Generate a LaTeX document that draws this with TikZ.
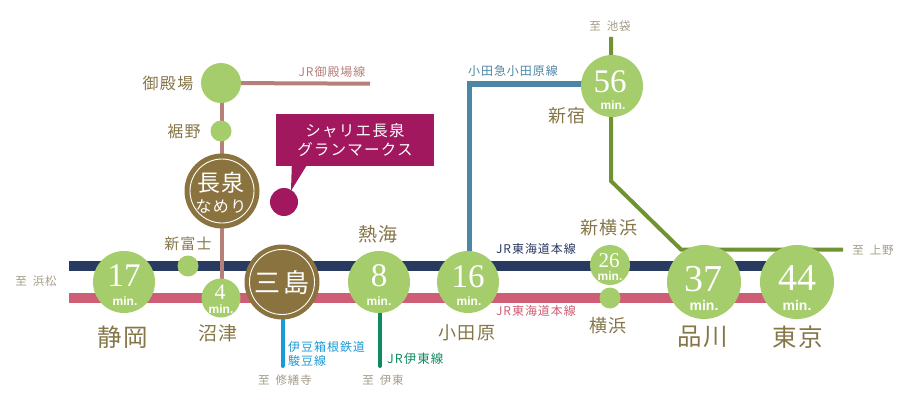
\documentclass[tikz,border=0pt]{standalone}
\usepackage{fontspec}
\usetikzlibrary{backgrounds,calc}
\setmainfont{Liberation Serif}
\newfontfamily\cjk[LetterSpace=8]{Noto Sans CJK JP}
\newfontfamily\numf{Liberation Serif}
\newfontfamily\minf{Liberation Sans}
\definecolor{stgreen}{HTML}{A5CD6B}
\definecolor{stbrown}{HTML}{8A733F}
\definecolor{labbrown}{HTML}{857648}
\definecolor{dirgrey}{HTML}{A39C86}
\definecolor{magen}{HTML}{A2185F}
\definecolor{navyl}{HTML}{283A60}
\definecolor{pinkl}{HTML}{CE5E76}
\definecolor{gotl}{HTML}{B67F79}
\definecolor{odal}{HTML}{4C86A4}
\definecolor{jrgreen}{HTML}{6E9330}
\definecolor{izul}{HTML}{1C9AD6}
\definecolor{itol}{HTML}{0F8A5F}
\tikzset{
  lab/.style={inner sep=0pt,text=labbrown,font=\cjk\fontsize{#1}{#1}\selectfont},
  dirlab/.style={inner sep=0pt,text=dirgrey,font=\cjk\fontsize{11.5}{11.5}\selectfont},
  linelab/.style 2 args={inner sep=0pt,text=#2,font=\cjk\fontsize{#1}{#1}\selectfont},
  st/.style={circle,fill=stgreen,inner sep=0pt,minimum size=#1},
  hub/.style={circle,fill=stbrown,inner sep=0pt,minimum size=#1},
  ring/.style={circle,draw=white,line width=0.9pt,inner sep=0pt,minimum size=#1},
  num/.style={inner sep=0pt,text=white,font=\numf\fontsize{#1}{#1}\selectfont},
  minlab/.style={inner sep=0pt,text=white,font=\minf\bfseries\fontsize{#1}{#1}\selectfont},
  wlab/.style={inner sep=0pt,text=white,font=\cjk\fontsize{#1}{#1}\selectfont},
  trunk/.style={line width=10pt},
  branch/.style={line width=4pt},
}
\begin{document}
\begin{tikzpicture}[x=1pt,y=-1pt]
\useasboundingbox (0,0) rectangle (905,420);
% stations
\node[st=40pt] (gotemba) at (221,83) {};
\node[st=21pt] (susono) at (221,131) {};
\node[hub=75pt] (nagaizumi) at (222,191) {};
\node[ring=64pt] (nagaring) at (222,191) {};
\node[st=62pt] (shizuoka) at (124,282) {};
\node[st=21pt] (shinfuji) at (188,266) {};
\node[st=39pt] (numazu) at (221,298) {};
\node[hub=75pt] (mishima) at (282,282) {};
\node[ring=65pt] (mishring) at (282,282) {};
\node[st=62pt] (atami) at (379,282) {};
\node[st=62pt] (odawara) at (468,282) {};
\node[st=40pt] (shinyoko) at (610,265) {};
\node[st=21pt] (yokohama) at (610,298) {};
\node[st=74pt] (shinagawa) at (704,282) {};
\node[st=74pt] (tokyo) at (797,282) {};
\node[st=62pt] (shinjuku) at (612,86) {};
\node[circle,fill=magen,inner sep=0pt,minimum size=28pt] (pin) at (284,202) {};
\node[fill=magen,minimum width=158pt,minimum height=52pt,inner sep=0pt,align=center,text=white,font=\cjk\fontsize{15.5}{19.5}\selectfont] (box) at (355,140) {シャリエ長泉\\グランマークス};
\fill[magen] ($(box.south west)+(16,-1)$) -- ($(box.south west)+(31,-1)$) -- ($(pin.north)+(7,3)$) -- cycle;
% free line ends
\coordinate (navyW) at (69,266);
\coordinate (navyE) at (770,266);
\coordinate (pinkW) at (69,298);
\coordinate (pinkE) at (770,298);
\coordinate (gotE) at (370,83.7);
\coordinate (odaC) at (469,84);
\coordinate (ikeb) at (611,37);
\coordinate (gbendA) at (611,181);
\coordinate (gbendB) at (681,249.5);
\coordinate (uenoE) at (843,249.5);
\coordinate (izuS) at (282.5,366);
\coordinate (itoS) at (380,366);
\begin{scope}[on background layer]
\draw[trunk,navyl] (navyW) -- (navyE);
\draw[trunk,pinkl] (pinkW) -- (pinkE);
\draw[branch,gotl] (gotemba.center) -- (gotE);
\draw[branch,gotl] (222,83) -- (222,298);
\draw[line width=5pt,odal] (odawara.center -| odaC) -- (odaC) -- (shinjuku.center |- odaC);
\draw[branch,jrgreen] (ikeb) -- (gbendA) -- (gbendB) -- (uenoE);
\draw[branch,izul,line cap=round] (mishima.center -| izuS) -- (izuS);
\draw[branch,itol,line cap=round] (atami.center -| itoS) -- (itoS);
\end{scope}
% numbers
\node[num=33] (n17) at (124,276) {17};
\node[minlab=12] (m17) at (125,301) {min.};
\node[num=22] (n4) at (220,292.5) {4};
\node[minlab=12] (m4) at (221,309) {min.};
\node[num=33] (n8) at (379,276) {8};
\node[minlab=12] (m8) at (379,301) {min.};
\node[num=33] (n16) at (468,277) {16};
\node[minlab=12] (m16) at (469,301) {min.};
\node[num=21] (n26) at (609,261) {26};
\node[minlab=12] (m26) at (610,276.5) {min.};
\node[num=38] (n37) at (703,279) {37};
\node[minlab=14] (m37) at (704,305) {min.};
\node[num=38] (n44) at (797,278) {44};
\node[minlab=14] (m44) at (797,305) {min.};
\node[num=33] (n56) at (610,82) {56};
\node[minlab=12] (m56) at (613,105) {min.};
% hub text
\node[wlab=23] (tnaga) at (221,183) {長泉};
\node[wlab=16] (tname) at (221,206) {なめり};
\node[wlab=26] (tmish) at (282,283) {三島};
% labels
\node[lab=16] (tgot) at (168,83) {御殿場};
\node[lab=16] (tsus) at (184,131) {裾野};
\node[lab=15] (tfuji) at (188,244) {新富士};
\node[lab=24.5] (tshi) at (123,337) {静岡};
\node[lab=19] (tnum) at (218,333) {沼津};
\node[lab=19] (tata) at (378,234) {熱海};
\node[lab=18] (toda) at (467,333) {小田原};
\node[lab=18] (tsy) at (609,228) {新横浜};
\node[lab=18] (tyok) at (608,326) {横浜};
\node[lab=24.5] (tsina) at (703,337) {品川};
\node[lab=24.5] (ttok) at (798,337) {東京};
\node[lab=18] (tjuku) at (567,116) {新宿};
% directions
\node[dirlab] (dhama) at (36,281) {至\hspace{6pt}浜松};
\node[dirlab] (dshu) at (285,380) {至\hspace{6pt}修繕寺};
\node[dirlab] (dito) at (383,380) {至\hspace{6pt}伊東};
\node[dirlab] (dueno) at (873,250) {至\hspace{6pt}上野};
\node[dirlab] (dike) at (610,26) {至\hspace{6pt}池袋};
% line names
\node[linelab={12}{gotl}] (lgot) at (332,72) {JR御殿場線};
\node[linelab={12}{odal}] (loda) at (513,71) {小田急小田原線};
\node[linelab={12}{navyl}] (lnav) at (536,249) {JR東海道本線};
\node[linelab={12}{pinkl}] (lpink) at (536,311) {JR東海道本線};
\node[linelab={12}{izul},anchor=west,align=left,font=\cjk\fontsize{12}{14.5}\selectfont] (lizu) at (288,354) {伊豆箱根鉄道\\駿豆線};
\node[linelab={12.5}{itol},anchor=west] (lito) at (387,359) {JR伊東線};
\end{tikzpicture}
\end{document}
